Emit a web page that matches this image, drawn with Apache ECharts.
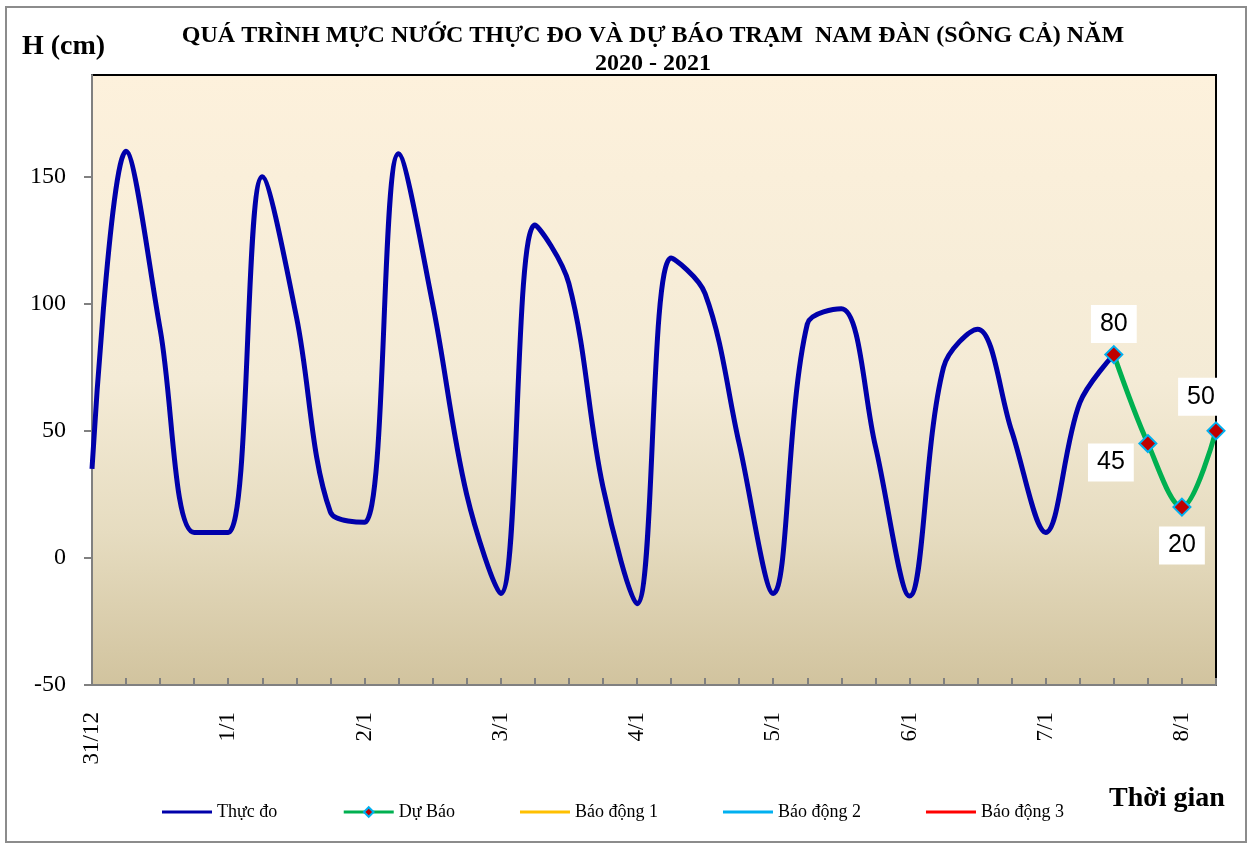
<!DOCTYPE html>
<html>
<head>
<meta charset="utf-8">
<title>Mực nước Nam Đàn</title>
<script src="https://cdn.jsdelivr.net/npm/echarts@6/dist/echarts.min.js"></script>
<style>
  html, body { margin: 0; padding: 0; background: #fff; }
  #chart { width: 1251px; height: 845px; }
</style>
</head>
<body>
<div id="chart"></div>
<script>
// trục thời gian: 6 giờ một điểm, nhãn ngày ở mốc 0h
var categories = ["31/12", "", "", "", "1/1", "", "", "", "2/1", "", "", "", "3/1", "", "", "",
  "4/1", "", "", "", "5/1", "", "", "", "6/1", "", "", "", "7/1", "", "", "", "8/1", ""];

// mực nước thực đo (cm)
var thucDo = [35, 160, 90, 10, 10, 150, 95, 18, 14, 159, 100, 25, -14, 131, 108, 28,
  -18, 118, 104, 45, -14, 92, 98, 44, -15, 75, 90, 50, 10, 61, 80];

// mực nước dự báo (cm)
var duBao = [null, null, null, null, null, null, null, null, null, null, null, null, null, null, null,
  null, null, null, null, null, null, null, null, null, null, null, null, null, null, null,
  80, 45, 20, 50];

// các mức báo động nằm ngoài khung hình nên không có điểm nào
var baoDong1 = [];
var baoDong2 = [];
var baoDong3 = [];

var yTicks = [-50, 0, 50, 100, 150];

var serif = '"Liberation Serif", "Times New Roman", serif';
var lineIcon = "path://M0,0 L50,0 L50,3 L0,3 Z";
var chart = echarts.init(document.getElementById("chart"));

// vị trí nhãn cho từng điểm dự báo
var duBaoLabels = {
  30: { position: "top", distance: 2 },
  31: { position: "inside", offset: [-37, 19] },
  32: { position: "bottom", distance: 10 },
  33: { position: "inside", offset: [-15, -34] }
};

var duBaoData = duBao.map(function (v, i) {
  if (v === null) return null;
  return { value: v, label: duBaoLabels[i] };
});

var option = {
  animation: false,
  backgroundColor: "#fff",
  title: [
    {
      text: "QUÁ TRÌNH MỰC NƯỚC THỰC ĐO VÀ DỰ BÁO TRẠM  NAM ĐÀN (SÔNG CẢ) NĂM\n2020 - 2021",
      left: 648,
      top: 17,
      textAlign: "center",
      textStyle: { fontFamily: serif, fontSize: 24, fontWeight: "bold", color: "#000", lineHeight: 28 }
    },
    {
      text: "H (cm)",
      left: 17,
      top: 28,
      textStyle: { fontFamily: serif, fontSize: 28, fontWeight: "bold", color: "#000" }
    },
    {
      text: "Thời gian",
      left: 1104,
      top: 780,
      textStyle: { fontFamily: serif, fontSize: 28, fontWeight: "bold", color: "#000" }
    }
  ],
  legend: {
    left: 157,
    top: 798,
    itemWidth: 50,
    itemHeight: 12,
    itemGap: 65,
    lineStyle: { width: 3 },
    textStyle: { fontFamily: serif, fontSize: 18, color: "#000" },
    data: [
      { name: "Thực đo", icon: lineIcon },
      { name: "Dự Báo" },
      { name: "Báo động 1", icon: lineIcon },
      { name: "Báo động 2", icon: lineIcon },
      { name: "Báo động 3", icon: lineIcon }
    ]
  },
  graphic: [
    {
      type: "rect",
      shape: { x: 6, y: 7, width: 1240, height: 835 },
      style: { fill: "none", stroke: "#8c8c8c", lineWidth: 2 },
      silent: true
    }
  ],
  grid: {
    left: 92,
    top: 75,
    right: 35,
    bottom: 160,
    show: true,
    borderColor: "#000",
    borderWidth: 2,
    backgroundColor: {
      type: "linear", x: 0, y: 0, x2: 0, y2: 1,
      colorStops: [
        { offset: 0, color: "#fdf1dc" },
        { offset: 0.5, color: "#f4ebd6" },
        { offset: 0.75, color: "#e6dcc0" },
        { offset: 1, color: "#d1c39e" }
      ]
    }
  },
  xAxis: {
    type: "category",
    data: categories,
    boundaryGap: false,
    axisLine: { onZero: false, lineStyle: { color: "#808080", width: 2 } },
    axisTick: { show: true, inside: true, length: 7, interval: 0, lineStyle: { color: "#808080", width: 2 } },
    axisLabel: {
      interval: 0,
      rotate: 90,
      margin: 27,
      fontFamily: serif,
      fontSize: 23,
      color: "#000"
    },
    splitLine: { show: false }
  },
  yAxis: {
    type: "value",
    min: -50,
    max: 190,
    interval: 50,
    axisLine: { show: true, onZero: false, lineStyle: { color: "#808080", width: 2 } },
    axisTick: { show: true, length: 8, customValues: yTicks, lineStyle: { color: "#808080", width: 2 } },
    axisLabel: {
      customValues: yTicks,
      margin: 26,
      fontFamily: serif,
      fontSize: 24,
      color: "#000"
    },
    splitLine: { show: false }
  },
  series: [
    {
      name: "Thực đo",
      type: "line",
      data: thucDo,
      smooth: 0.35,
      symbol: "none",
      color: "#0000aa",
      lineStyle: { color: "#0000aa", width: 5 },
      z: 3
    },
    {
      name: "Dự Báo",
      type: "line",
      data: duBaoData,
      smooth: 0.35,
      symbol: "diamond",
      symbolSize: 17,
      showAllSymbol: true,
      color: "#00b050",
      lineStyle: { color: "#00b050", width: 5 },
      itemStyle: { color: "#c00000", borderColor: "#00b0f0", borderWidth: 2 },
      label: {
        show: true,
        fontFamily: '"Liberation Sans", Arial, sans-serif',
        fontSize: 25,
        color: "#000",
        backgroundColor: "#fff",
        padding: [6, 9, 6, 9],
        lineHeight: 26
      },
      z: 4
    },
    {
      name: "Báo động 1",
      type: "line",
      data: baoDong1,
      symbol: "none",
      color: "#ffc000",
      lineStyle: { color: "#ffc000", width: 3 }
    },
    {
      name: "Báo động 2",
      type: "line",
      data: baoDong2,
      symbol: "none",
      color: "#00b0f0",
      lineStyle: { color: "#00b0f0", width: 3 }
    },
    {
      name: "Báo động 3",
      type: "line",
      data: baoDong3,
      symbol: "none",
      color: "#ff0000",
      lineStyle: { color: "#ff0000", width: 3 }
    }
  ]
};

chart.setOption(option);
</script>
</body>
</html>
